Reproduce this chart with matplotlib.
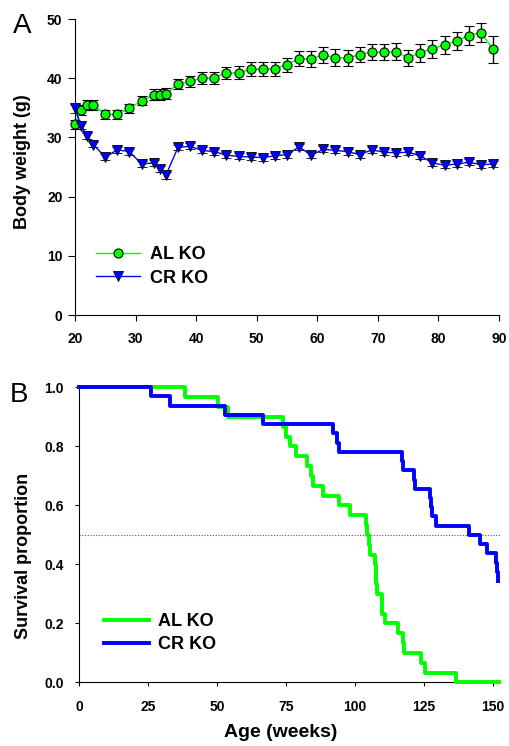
import numpy as np
import matplotlib
matplotlib.use('Agg')
import matplotlib.pyplot as plt

plt.rcParams['font.family'] = ['Liberation Sans', 'DejaVu Sans']
plt.rcParams['font.weight'] = 'bold'

# Panel A: body weight (g) by age (weeks)
weeks = [20, 21, 22, 23, 25, 27, 29, 31, 33, 34, 35, 37, 39, 41, 43, 45, 47,
         49, 51, 53, 55, 57, 59, 61, 63, 65, 67, 69, 71, 73, 75, 77, 79, 81,
         83, 85, 87, 89]
al_weight = [32.2, 34.6, 35.5, 35.5, 33.9, 33.9, 34.9, 36.2, 37.2, 37.2, 37.4,
             39.0, 39.5, 40.0, 40.1, 40.9, 40.9, 41.5, 41.6, 41.6, 42.3, 43.3,
             43.3, 43.9, 43.5, 43.4, 44.0, 44.4, 44.4, 44.5, 43.4, 44.3, 45.0,
             45.6, 46.3, 47.2, 47.7, 44.9]
al_err = [0.8, 0.8, 0.8, 0.8, 0.8, 0.8, 0.8, 0.8, 0.9, 0.9, 0.9,
          0.8, 0.9, 1.0, 1.0, 1.0, 1.1, 1.2, 1.2, 1.2, 1.2, 1.3,
          1.35, 1.35, 1.4, 1.4, 1.3, 1.3, 1.3, 1.4, 1.3, 1.5, 1.5,
          1.5, 1.5, 1.6, 1.6, 2.3]
cr_weight = [34.9, 32.0, 30.2, 28.8, 26.7, 27.9, 27.6, 25.5, 25.7, 24.7, 23.6,
             28.3, 28.5, 27.8, 27.6, 27.0, 26.8, 26.7, 26.6, 26.9, 27.1, 28.4,
             27.0, 28.0, 27.8, 27.6, 27.1, 27.9, 27.5, 27.4, 27.5, 26.9, 25.7,
             25.3, 25.5, 25.8, 25.4, 25.5]
cr_err = [0.8, 0.6, 0.5, 0.5, 0.5, 0.5, 0.5, 0.5, 0.5, 0.5, 0.6,
          0.5, 0.5, 0.5, 0.5, 0.5, 0.5, 0.5, 0.5, 0.5, 0.5, 0.5,
          0.5, 0.5, 0.5, 0.5, 0.5, 0.5, 0.5, 0.5, 0.5, 0.5, 0.5,
          0.5, 0.5, 0.5, 0.5, 0.5]

# Panel B: Kaplan-Meier steps (week of step, survival after step)
al_time = [0, 38.4, 50.3, 54.0, 74.0, 75.0, 76.5, 78.7, 82.7, 84.0, 85.0,
           88.5, 94.4, 98.3, 104.0, 104.5, 105.0, 105.4, 107.3, 107.6, 107.8,
           108.0, 109.7, 110.0, 111.0, 115.6, 117.5, 117.8, 123.9, 125.5,
           136.5, 152.2]
al_surv = [1.0, 0.967, 0.933, 0.9, 0.867, 0.833, 0.8, 0.767, 0.733, 0.7, 0.667,
           0.633, 0.6, 0.567, 0.533, 0.5, 0.467, 0.433, 0.4, 0.367, 0.333,
           0.3, 0.267, 0.233, 0.2, 0.167, 0.133, 0.1, 0.067, 0.033,
           0.0, 0.0]
cr_time = [0, 26.1, 33.1, 52.8, 66.7, 92.1, 93.5, 94.4, 117.1, 117.4, 121.4,
           121.7, 127.3, 127.6, 128.0, 129.4, 141.3, 145.4, 147.9, 151.3,
           151.5, 151.7, 151.8]
cr_surv = [1.0, 0.969, 0.938, 0.906, 0.875, 0.844, 0.8125, 0.781, 0.75, 0.719,
           0.6875, 0.656, 0.625, 0.594, 0.5625, 0.531, 0.5, 0.469, 0.4375,
           0.406, 0.375, 0.344, 0.344]

green = '#00ff00'
blue = '#0000ff'

fig = plt.figure(figsize=(5.09, 7.46), dpi=100)
ax1 = fig.add_axes([0.1473, 0.5777, 0.8331, 0.3968])
ax2 = fig.add_axes([0.1552, 0.0854, 0.8271, 0.3954])

# --- panel A
ax1.errorbar(weeks, al_weight, yerr=al_err, color=green, lw=1, marker='o',
             ms=6.5, mfc=green, mec='black', mew=0.8, ecolor='black',
             elinewidth=1, capsize=3.5, capthick=1, label='AL KO',
             clip_on=False, zorder=3)
ax1.errorbar(weeks, cr_weight, yerr=cr_err, color=blue, lw=1, marker='v',
             ms=6.5, mfc=blue, mec='black', mew=0.6, ecolor='black',
             elinewidth=1, capsize=3.5, capthick=1, label='CR KO',
             clip_on=False, zorder=3)
ax1.set_xlim(20, 90)
ax1.set_ylim(0, 50)
ax1.set_xticks(np.arange(20, 91, 10))
ax1.set_yticks(np.arange(0, 51, 10))
ax1.set_ylabel('Body weight (g)', fontsize=13, fontweight='bold')
ax1.yaxis.set_label_coords(-0.104, 0.519)
ax1.tick_params(axis='x', direction='out', length=4, width=0.8, pad=8,
                labelsize=10)
ax1.tick_params(axis='y', direction='out', length=5, width=0.8, pad=4,
                labelsize=10)
handles, labels = ax1.get_legend_handles_labels()
handles = [h[0] for h in handles]
ax1.legend(handles, labels, loc='upper left', bbox_to_anchor=(0.012, 0.287),
           frameon=False, fontsize=13, handlelength=2.4, handletextpad=0.55,
           labelspacing=0.35, borderaxespad=0.5)

# --- panel B
ax2.axhline(0.5, color='#555555', lw=0.8, ls=(0, (1, 1.5)), zorder=1)
ax2.step(al_time, al_surv, where='post', color=green, lw=2.8, label='AL KO',
         clip_on=False, zorder=3)
ax2.step(cr_time, cr_surv, where='post', color=blue, lw=2.8, label='CR KO',
         clip_on=False, zorder=4)
ax2.set_xlim(0, 152.6)
ax2.set_ylim(0, 1.0)
ax2.set_xticks([0, 25, 50, 75, 100, 125, 150])
ax2.set_yticks([0.0, 0.2, 0.4, 0.6, 0.8, 1.0])
ax2.set_yticklabels(['0.0', '0.2', '0.4', '0.6', '0.8', '1.0'])
ax2.set_ylabel('Survival proportion', fontsize=13, fontweight='bold')
ax2.yaxis.set_label_coords(-0.112, 0.428)
ax2.set_xlabel('Age (weeks)', fontsize=14, fontweight='bold')
ax2.xaxis.set_label_coords(0.48, -0.14)
ax2.tick_params(axis='x', direction='out', length=3, width=0.8, pad=10,
                labelsize=10)
ax2.tick_params(axis='y', direction='out', length=3, width=0.8, pad=8,
                labelsize=10)
ax2.legend(loc='upper left', bbox_to_anchor=(0.021, 0.29), frameon=False,
           fontsize=13, handlelength=2.5, handletextpad=0.5,
           labelspacing=0.35, borderaxespad=0.5)

for ax in (ax1, ax2):
    ax.spines['top'].set_visible(False)
    ax.spines['right'].set_visible(False)
    ax.spines['left'].set_linewidth(0.8)
    ax.spines['bottom'].set_linewidth(0.8)

fig.text(13 / 509, 1 - 33 / 746, 'A', fontsize=20, fontweight='normal')
fig.text(10 / 509, 1 - 402 / 746, 'B', fontsize=20, fontweight='normal')

fig.savefig('out.png', dpi=100)
